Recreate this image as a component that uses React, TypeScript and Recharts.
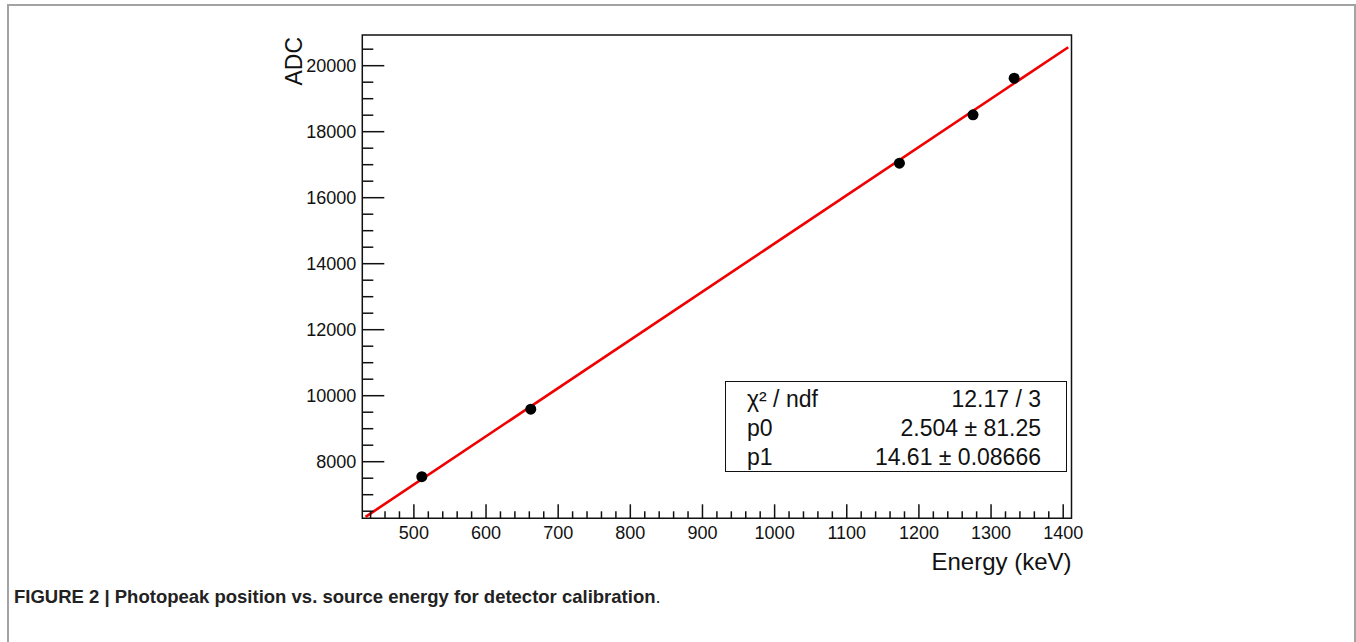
import { ComposedChart, XAxis, YAxis, Scatter, Line, ReferenceArea, Label } from "recharts";

// measured photopeaks
const energies = [511, 662, 1173, 1275, 1332];
const adcPeaks = [7545, 9590, 17045, 18510, 19620];

// fit line end points as drawn
const fitEnergies = [433, 1407];
const fitAdc = [6330, 20560];

const xDomain = [428.5, 1411.5];
const yDomain = [6285, 20930];

const xMajorTicks = [500, 600, 700, 800, 900, 1000, 1100, 1200, 1300, 1400];
const xTicks = [
  440, 460, 480, 500, 520, 540, 560, 580, 600, 620, 640, 660, 680, 700, 720, 740, 760, 780,
  800, 820, 840, 860, 880, 900, 920, 940, 960, 980, 1000, 1020, 1040, 1060, 1080, 1100, 1120,
  1140, 1160, 1180, 1200, 1220, 1240, 1260, 1280, 1300, 1320, 1340, 1360, 1380, 1400,
];
const yMajorTicks = [8000, 10000, 12000, 14000, 16000, 18000, 20000];
const yTicks = [
  6500, 7000, 7500, 8000, 8500, 9000, 9500, 10000, 10500, 11000, 11500, 12000, 12500, 13000,
  13500, 14000, 14500, 15000, 15500, 16000, 16500, 17000, 17500, 18000, 18500, 19000, 19500,
  20000, 20500,
];

const statNames = ["χ² / ndf", "p0", "p1"];
const statValues = ["12.17 / 3", "2.504 ± 81.25", "14.61 ± 0.08666"];

const FONT = "'Liberation Sans', Arial, Helvetica, sans-serif";
const INK = "#111";

const points = energies.map((e, i) => ({ e, adc: adcPeaks[i] }));
const fitLine = fitEnergies.map((e, i) => ({ e, adc: fitAdc[i] }));

const XTick = ({ x, y, payload }: any) => {
  const major = xMajorTicks.includes(payload.value);
  return (
    <g>
      <line x1={x} x2={x} y1={y} y2={y - (major ? 14 : 7)} stroke={INK} strokeWidth={1.5} />
      {major && (
        <text x={x} y={y + 21} textAnchor="middle" fontSize={18} fontFamily={FONT} fill={INK}>
          {payload.value}
        </text>
      )}
    </g>
  );
};

const YTick = ({ x, y, payload }: any) => {
  const major = yMajorTicks.includes(payload.value);
  return (
    <g>
      <line x1={x} x2={x + (major ? 22 : 11)} y1={y} y2={y} stroke={INK} strokeWidth={1.5} />
      {major && (
        <text x={x - 6} y={y + 6.5} textAnchor="end" fontSize={18} fontFamily={FONT} fill={INK}>
          {payload.value}
        </text>
      )}
    </g>
  );
};

const Dot = ({ cx, cy }: any) => <circle cx={cx} cy={cy} r={5.5} fill="#000" />;

const App = () => {
  return (
    <div style={{ position: "absolute", left: 0, top: 0, width: 1356, height: 642, background: "#fff" }}>
      <div
        style={{
          position: "absolute",
          left: 7,
          top: 4,
          width: 1349,
          height: 638,
          boxSizing: "border-box",
          borderLeft: "2px solid #a3a3a3",
          borderTop: "2px solid #a3a3a3",
          borderRight: "2px solid #a3a3a3",
        }}
      />
      <div style={{ position: "absolute", left: 0, top: 0 }}>
        <ComposedChart
          width={1356}
          height={600}
          margin={{ top: 35, left: 282.3, right: 284.5, bottom: 51.7 }}
        >
          <XAxis
            dataKey="e"
            type="number"
            domain={xDomain}
            ticks={xTicks}
            interval={0}
            allowDataOverflow
            axisLine={false}
            tickLine={false}
            tickSize={0}
            tickMargin={0}
            height={30}
            tick={<XTick />}
          >
            <Label
              content={({ viewBox }: any) => (
                <text
                  x={(viewBox?.x ?? 362.3) + (viewBox?.width ?? 709.2)}
                  y={(viewBox?.y ?? 518.3) + 52}
                  textAnchor="end"
                  fontSize={24}
                  fontFamily={FONT}
                  fill={INK}
                >
                  Energy (keV)
                </text>
              )}
            />
          </XAxis>
          <YAxis
            dataKey="adc"
            type="number"
            domain={yDomain}
            ticks={yTicks}
            interval={0}
            allowDataOverflow
            axisLine={false}
            tickLine={false}
            tickSize={0}
            tickMargin={0}
            width={80}
            tick={<YTick />}
          >
            <Label
              content={({ viewBox }: any) => {
                const bx = (viewBox?.x ?? 282.3) + 20;
                const by = (viewBox?.y ?? 35) + 2;
                return (
                  <text
                    x={bx}
                    y={by}
                    transform={`rotate(-90 ${bx} ${by})`}
                    textAnchor="end"
                    fontSize={23}
                    fontFamily={FONT}
                    fill={INK}
                  >
                    ADC
                  </text>
                );
              }}
            />
          </YAxis>
          <ReferenceArea
            x1={xDomain[0]}
            x2={xDomain[1]}
            y1={yDomain[0]}
            y2={yDomain[1]}
            fill="none"
            stroke={INK}
            strokeWidth={1.5}
          />
          <Scatter data={points} dataKey="adc" shape={<Dot />} isAnimationActive={false} />
          <Line
            data={fitLine}
            dataKey="adc"
            stroke="#f00000"
            strokeWidth={2.6}
            dot={false}
            activeDot={false}
            isAnimationActive={false}
          />
        </ComposedChart>
      </div>
      <div
        style={{
          position: "absolute",
          left: 725,
          top: 381,
          width: 342,
          height: 91,
          boxSizing: "border-box",
          border: `1.5px solid ${INK}`,
          paddingTop: 2.5,
          paddingLeft: 21,
          paddingRight: 25,
          background: "#fff",
          fontFamily: FONT,
          fontSize: 23,
          color: INK,
        }}
      >
        {statNames.map((name, i) => (
          <div key={name} style={{ display: "flex", justifyContent: "space-between", lineHeight: "29px", height: 29 }}>
            <span>{name}</span>
            <span>{statValues[i]}</span>
          </div>
        ))}
      </div>
      <div
        style={{
          position: "absolute",
          left: 14,
          top: 586,
          fontFamily: FONT,
          fontSize: 18.5,
          color: "#222",
          whiteSpace: "nowrap",
        }}
      >
        <b>FIGURE 2 | Photopeak position vs. source energy for detector calibration</b>.
      </div>
    </div>
  );
};

export default App;
